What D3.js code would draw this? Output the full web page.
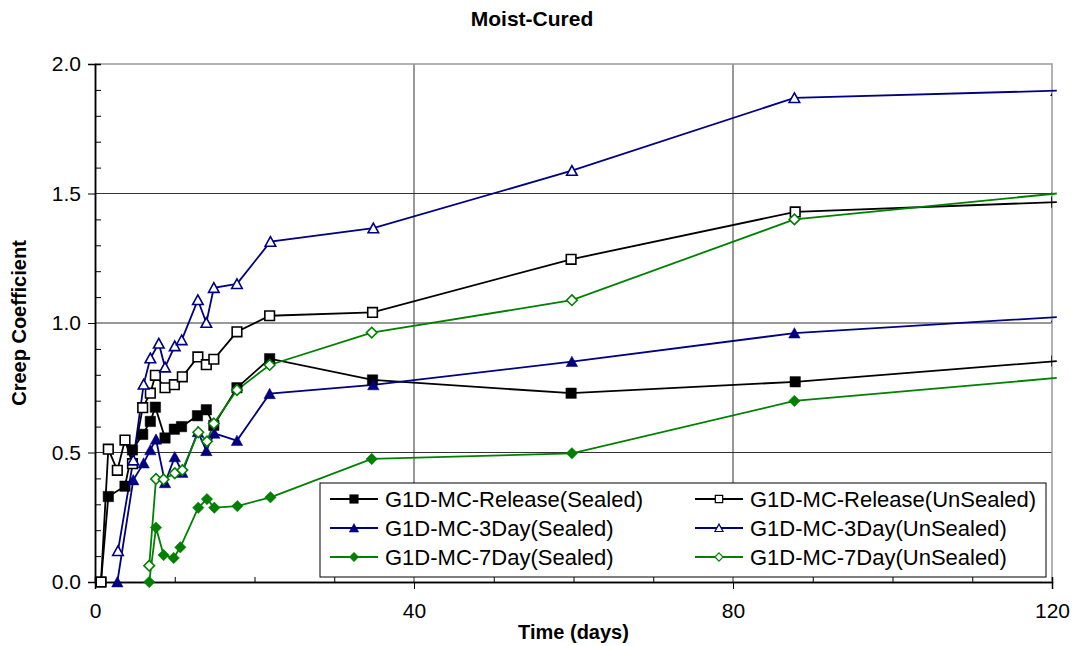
<!DOCTYPE html>
<html>
<head>
<meta charset="utf-8">
<script src="https://cdn.jsdelivr.net/npm/d3@7"></script>
<style>
  body { margin: 0; background: #fff; }
  svg text { font-family: Arial, "Liberation Sans", sans-serif; }
</style>
</head>
<body>
<div id="chart"></div>
<script>
// data (days, creep coefficient)
var releaseSealedDays = [0.75, 1.67, 3.76, 4.7, 5.98, 6.94, 7.57, 8.78, 9.95, 10.85, 12.85, 13.96, 14.9, 17.8, 21.9, 34.8, 59.7, 87.8, 120.6];
var releaseSealed = [0, 0.33, 0.37, 0.51, 0.57, 0.62, 0.675, 0.556, 0.59, 0.60, 0.642, 0.665, 0.605, 0.75, 0.862, 0.78, 0.729, 0.773, 0.853];

var releaseUnsealedDays = [0.75, 1.67, 2.8, 3.76, 4.7, 5.98, 6.94, 7.57, 8.78, 9.95, 10.95, 12.9, 13.96, 14.9, 17.8, 21.9, 34.8, 59.7, 87.8, 120.6];
var releaseUnsealed = [0, 0.513, 0.431, 0.548, 0.457, 0.673, 0.729, 0.798, 0.75, 0.762, 0.792, 0.869, 0.839, 0.86, 0.966, 1.028, 1.041, 1.246, 1.429, 1.467];

var day3SealedDays = [2.8, 4.8, 6.1, 6.94, 7.65, 8.78, 10.0, 10.95, 12.9, 13.96, 14.96, 17.8, 21.9, 34.9, 59.8, 87.7, 120.6];
var day3Sealed = [0, 0.394, 0.459, 0.51, 0.551, 0.383, 0.483, 0.423, 0.58, 0.507, 0.574, 0.546, 0.727, 0.761, 0.851, 0.961, 1.023];

var day3UnsealedDays = [2.88, 4.8, 6.1, 6.94, 8.0, 8.78, 10.0, 10.87, 12.9, 13.96, 14.9, 17.8, 22.0, 34.9, 59.8, 87.7, 120.6];
var day3Unsealed = [0.12, 0.47, 0.763, 0.864, 0.921, 0.829, 0.911, 0.934, 1.089, 1.001, 1.136, 1.151, 1.314, 1.366, 1.588, 1.869, 1.897];

var day7SealedDays = [6.8, 7.65, 8.6, 9.87, 10.7, 12.95, 14.04, 14.96, 17.85, 22.0, 34.7, 59.8, 87.7, 120.6];
var day7Sealed = [0, 0.21, 0.104, 0.093, 0.134, 0.287, 0.32, 0.287, 0.293, 0.327, 0.475, 0.497, 0.699, 0.788];

var day7UnsealedDays = [6.8, 7.65, 8.6, 10.0, 10.95, 12.95, 14.04, 14.9, 17.8, 21.9, 34.7, 59.8, 87.7, 120.6];
var day7Unsealed = [0.063, 0.398, 0.396, 0.42, 0.432, 0.578, 0.543, 0.612, 0.741, 0.838, 0.963, 1.088, 1.40, 1.50];

var seriesNames = ["G1D-MC-Release(Sealed)", "G1D-MC-Release(UnSealed)", "G1D-MC-3Day(Sealed)",
                   "G1D-MC-3Day(UnSealed)", "G1D-MC-7Day(Sealed)", "G1D-MC-7Day(UnSealed)"];
var xTicks = [0, 40, 80, 120];
var yTicks = [0, 0.5, 1.0, 1.5, 2.0];

var series = [
  {name: seriesNames[0], days: releaseSealedDays, vals: releaseSealed, color: "#000000", shape: "square", filled: true},
  {name: seriesNames[1], days: releaseUnsealedDays, vals: releaseUnsealed, color: "#000000", shape: "square", filled: false},
  {name: seriesNames[2], days: day3SealedDays, vals: day3Sealed, color: "#000080", shape: "triangle", filled: true},
  {name: seriesNames[3], days: day3UnsealedDays, vals: day3Unsealed, color: "#000080", shape: "triangle", filled: false},
  {name: seriesNames[4], days: day7SealedDays, vals: day7Sealed, color: "#008000", shape: "diamond", filled: true},
  {name: seriesNames[5], days: day7UnsealedDays, vals: day7Unsealed, color: "#008000", shape: "diamond", filled: false}
];

var W = 1076, H = 646;
var margin = {left: 95, top: 64, right: 24, bottom: 64};
var width = W - margin.left - margin.right,
    height = H - margin.top - margin.bottom;

var svg = d3.select("#chart").append("svg")
  .attr("width", W).attr("height", H);

var x = d3.scaleLinear().domain([0, 120]).range([0, width]);
var y = d3.scaleLinear().domain([0, 2]).range([height, 0]);

// marker path, r = half size
function markerPath(shape, r) {
  if (shape == "square") {
    return "M" + (-r) + "," + (-r) + "H" + r + "V" + r + "H" + (-r) + "Z";
  }
  if (shape == "triangle") {
    return "M0," + (-r * 1.05) + "L" + (r * 1.1) + "," + (r * 0.95) + "L" + (-r * 1.1) + "," + (r * 0.95) + "Z";
  }
  return "M0," + (-r * 1.1) + "L" + (r * 1.1) + ",0L0," + (r * 1.1) + "L" + (-r * 1.1) + ",0Z";
}

svg.append("defs").append("clipPath").attr("id", "plotClip")
  .append("rect").attr("x", -20).attr("y", -20).attr("width", width + 20).attr("height", height + 40);

var g = svg.append("g").attr("transform", "translate(" + margin.left + "," + margin.top + ")");

// gridlines
g.append("g").selectAll("line").data(yTicks.filter(function(d) { return d > 0 && d < 2; }))
  .enter().append("line")
  .attr("x1", 0).attr("x2", width)
  .attr("y1", function(d) { return y(d); }).attr("y2", function(d) { return y(d); })
  .attr("stroke", "#333333").attr("stroke-width", 1);
g.append("g").selectAll("line").data(xTicks.filter(function(d) { return d > 0 && d < 120; }))
  .enter().append("line")
  .attr("y1", 0).attr("y2", height)
  .attr("x1", function(d) { return x(d); }).attr("x2", function(d) { return x(d); })
  .attr("stroke", "#333333").attr("stroke-width", 1);

// plot area border (top / right)
g.append("path")
  .attr("d", "M0,0H" + width + "V" + height)
  .attr("fill", "none").attr("stroke", "#999999").attr("stroke-width", 1.5);

// axes
var xAxis = g.append("g").attr("transform", "translate(0," + height + ")")
  .call(d3.axisBottom(x).tickValues(xTicks).tickSize(7).tickPadding(14).tickFormat(d3.format("d")));
var xMinor = g.append("g").attr("transform", "translate(0," + height + ")")
  .call(d3.axisBottom(x).tickValues(d3.range(10, 120, 10).filter(function(d) { return d % 40; })).tickSize(-5).tickFormat(""));
var yAxis = g.append("g")
  .call(d3.axisLeft(y).tickValues(yTicks).tickSize(7).tickPadding(7).tickFormat(d3.format(".1f")));
var yMinor = g.append("g")
  .call(d3.axisLeft(y).tickValues(d3.range(0.1, 2, 0.1).filter(function(d) { return Math.abs(d * 2 - Math.round(d * 2)) > 0.01; })).tickSize(-6).tickFormat(""));

[xAxis, xMinor, yAxis, yMinor].forEach(function(a) {
  a.select(".domain").attr("stroke", "#000").attr("stroke-width", 1.5);
  a.selectAll(".tick line").attr("stroke", "#000");
  a.selectAll("text").style("font-size", "21px").attr("fill", "#000");
});

// series
series.forEach(function(s) {
  var pts = s.days.map(function(d, i) { return [d, s.vals[i]]; });
  g.append("path")
    .datum(pts)
    .attr("fill", "none")
    .attr("stroke", s.color)
    .attr("stroke-width", 1.8)
    .attr("d", d3.line().x(function(d) { return x(d[0]); }).y(function(d) { return y(d[1]); }));
});
series.forEach(function(s) {
  var pts = s.days.map(function(d, i) { return [d, s.vals[i]]; });
  g.append("g").attr("clip-path", "url(#plotClip)")
    .selectAll("path").data(pts).enter().append("path")
    .attr("transform", function(d) { return "translate(" + x(d[0]) + "," + y(d[1]) + ")"; })
    .attr("d", markerPath(s.shape, s.filled ? 5.2 : 4.8))
    .attr("fill", s.filled ? s.color : "#fff")
    .attr("stroke", s.color)
    .attr("stroke-width", s.filled ? 0.5 : 1.6);
});

// legend
var legend = {x: 320, y: 483, w: 726, h: 94, rowH: 29, colW: 365};
var lg = svg.append("g");
lg.append("rect")
  .attr("x", legend.x).attr("y", legend.y)
  .attr("width", legend.w).attr("height", legend.h)
  .attr("fill", "#fff").attr("stroke", "#000").attr("stroke-width", 1);
var items = lg.selectAll(".item").data(series).enter().append("g")
  .attr("class", "item")
  .attr("transform", function(d, i) {
    return "translate(" + (legend.x + 10 + (i % 2) * legend.colW) + "," + (legend.y + 16 + Math.floor(i / 2) * legend.rowH) + ")";
  });
items.append("line").attr("x1", 0).attr("x2", 48)
  .attr("stroke", function(d) { return d.color; }).attr("stroke-width", 1.8);
items.append("path")
  .attr("transform", "translate(24,0)")
  .attr("d", function(d) { return markerPath(d.shape, d.filled ? 4.3 : 3.7); })
  .attr("fill", function(d) { return d.filled ? d.color : "#fff"; })
  .attr("stroke", function(d) { return d.color; })
  .attr("stroke-width", function(d) { return d.filled ? 0.5 : 1.2; });
items.append("text")
  .attr("x", 55).attr("dy", "0.35em")
  .style("font-size", "22px")
  .text(function(d) { return d.name; });

// titles
svg.append("text")
  .attr("x", 532).attr("y", 26)
  .attr("text-anchor", "middle")
  .style("font-size", "21px").style("font-weight", "bold")
  .text("Moist-Cured");
svg.append("text")
  .attr("x", margin.left + width / 2).attr("y", 639)
  .attr("text-anchor", "middle")
  .style("font-size", "20px").style("font-weight", "bold")
  .text("Time (days)");
svg.append("text")
  .attr("transform", "translate(26," + (margin.top + height / 2) + ") rotate(-90)")
  .attr("text-anchor", "middle")
  .style("font-size", "20px").style("font-weight", "bold")
  .text("Creep Coefficient");
</script>
</body>
</html>
